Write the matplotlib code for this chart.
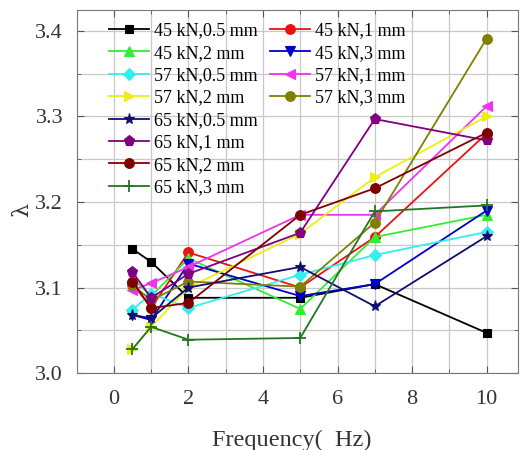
import matplotlib
matplotlib.use("Agg")
import matplotlib.pyplot as plt
from matplotlib.ticker import MultipleLocator

plt.rcParams['font.family'] = ['Liberation Serif', 'DejaVu Serif']
plt.rcParams['mathtext.fontset'] = 'stix'

freq = [0.5, 1, 2, 5, 7, 10]

labels = ["45 kN,0.5 mm", "45 kN,1 mm", "45 kN,2 mm", "45 kN,3 mm",
          "57 kN,0.5 mm", "57 kN,1 mm", "57 kN,2 mm", "57 kN,3 mm",
          "65 kN,0.5 mm", "65 kN,1 mm", "65 kN,2 mm", "65 kN,3 mm"]

s45_05 = [3.145, 3.130, 3.088, 3.088, 3.104, 3.047]
s45_1  = [3.105, 3.076, 3.141, 3.100, 3.159, 3.280]
s45_2  = [3.111, 3.090, 3.134, 3.075, 3.159, 3.185]
s45_3  = [3.068, 3.062, 3.128, 3.090, 3.104, 3.190]
s57_05 = [3.074, 3.093, 3.076, 3.115, 3.138, 3.165]
s57_1  = [3.097, 3.105, 3.124, 3.185, 3.185, 3.312]
s57_2  = [3.028, 3.054, 3.100, 3.163, 3.229, 3.300]
s57_3  = [3.103, 3.085, 3.107, 3.101, 3.176, 3.391]
s65_05 = [3.068, 3.064, 3.100, 3.124, 3.078, 3.160]
s65_1  = [3.118, 3.088, 3.116, 3.164, 3.297, 3.272]
s65_2  = [3.107, 3.076, 3.082, 3.185, 3.216, 3.281]
s65_3  = [3.028, 3.054, 3.039, 3.041, 3.189, 3.196]

series = [s45_05, s45_1, s45_2, s45_3, s57_05, s57_1, s57_2, s57_3,
          s65_05, s65_1, s65_2, s65_3]
colors = ['#000000', '#ee1111', '#33ee33', '#0000cc', '#33eeee', '#ee33ee',
          '#eeee11', '#808000', '#101070', '#800080', '#800000', '#227722']
markers = ['s', 'o', '^', 'v', 'D', '<', '>', 'o', '*', 'p', 'o', '+']
msizes = [6, 7, 7, 7, 6, 7, 7, 7, 8, 8, 7, 9]

fig = plt.figure(figsize=(5.2, 4.5), dpi=100)
ax = fig.add_axes([0.148, 0.171, 0.848, 0.807])

handles = []
for s, c, m, ms, lab in zip(series, colors, markers, msizes, labels):
    h, = ax.plot(freq, s, color=c, marker=m, markersize=ms, lw=1.3,
                 markeredgewidth=1.3 if m == '+' else 0.8,
                 markeredgecolor=c, label=lab)
    handles.append(h)

ax.set_xlim(-0.99, 10.84)
ax.set_ylim(3.0, 3.4246)
ax.xaxis.set_major_locator(MultipleLocator(2))
ax.xaxis.set_minor_locator(MultipleLocator(1))
ax.yaxis.set_major_locator(MultipleLocator(0.1))
ax.yaxis.set_minor_locator(MultipleLocator(0.05))
ax.yaxis.set_major_formatter(matplotlib.ticker.FormatStrFormatter('%.1f'))
ax.grid(True, which='both', color='#c8c8c8', lw=0.9)
ax.set_axisbelow(True)
ax.tick_params(which='both', direction='in', top=True, right=True,
               colors='#555555', labelcolor='#333333', labelsize=16)
ax.tick_params(which='major', length=5)
ax.tick_params(which='minor', length=3)
ax.tick_params(axis='x', which='major', pad=12)
ax.tick_params(axis='y', which='major', pad=10)
for sp in ax.spines.values():
    sp.set_color('#777777')

ax.set_xlabel('Frequency(  Hz)', fontsize=17.5, color='#333333')
ax.xaxis.set_label_coords(0.487, -0.155)
ax.set_ylabel('λ', fontsize=16, color='#333333', rotation=90,
              family=['DejaVu Serif'])
ax.yaxis.set_label_coords(-0.10, 0.45)

col1 = [0, 2, 4, 6, 8, 9, 10, 11]
col2 = [1, 3, 5, 7]
kw = dict(frameon=False, fontsize=13, handlelength=2.2, handletextpad=0.3,
          labelspacing=0.3, borderaxespad=0, borderpad=0, loc='upper left')
leg1 = ax.legend([handles[i] for i in col1], [labels[i] for i in col1],
                 bbox_to_anchor=(0.073, 0.966), **kw)
ax.add_artist(leg1)
ax.legend([handles[i] for i in col2], [labels[i] for i in col2],
          bbox_to_anchor=(0.438, 0.966), **kw)

fig.savefig('out.png', dpi=100)
